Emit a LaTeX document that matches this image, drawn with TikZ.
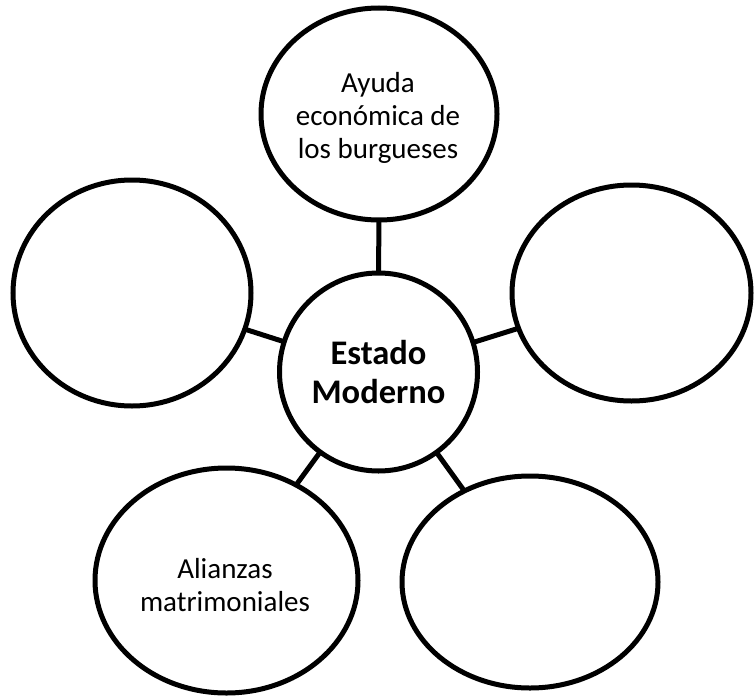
\documentclass[tikz,border=0pt]{standalone}
\usepackage{fontspec}
\setmainfont{Carlito}
\usetikzlibrary{shapes.geometric}
\begin{document}
\begin{tikzpicture}[x=1pt,y=-1pt,
  bub/.style={draw=black, line width=5pt, ellipse, inner sep=0pt, outer sep=0pt},
  txt/.style={inner sep=0pt, align=center, font=\fontsize{29}{33}\selectfont},
  coretxt/.style={inner sep=0pt, align=center, font=\fontsize{34.5}{39}\selectfont\bfseries},
  link/.style={draw=black, line width=5pt}]
\useasboundingbox (0,0) rectangle (754,698);
\node[bub, minimum width=198pt, minimum height=198pt] (c) at (378.5,372) {};
\node[bub, minimum width=236pt, minimum height=212pt] (t) at (379,114) {};
\node[bub, minimum width=238pt, minimum height=226pt] (l) at (132,293) {};
\node[bub, minimum width=239pt, minimum height=216pt] (r) at (631.5,293) {};
\node[bub, minimum width=263pt, minimum height=225pt] (bl) at (226.5,580.5) {};
\node[bub, minimum width=256pt, minimum height=212pt] (br) at (530,582) {};
\node[coretxt] (ct) at (378.5,372) {Estado\\Moderno};
\node[txt] (tt) at (378,118) {Ayuda\\económica de\\los burgueses};
\node[txt] (blt) at (225,585) {Alianzas\\matrimoniales};
\draw[link] (c) -- (t);
\draw[link] (c) -- (l);
\draw[link] (c) -- (r);
\draw[link] (c) -- (bl);
\draw[link] (c) -- (br);
\end{tikzpicture}
\end{document}
